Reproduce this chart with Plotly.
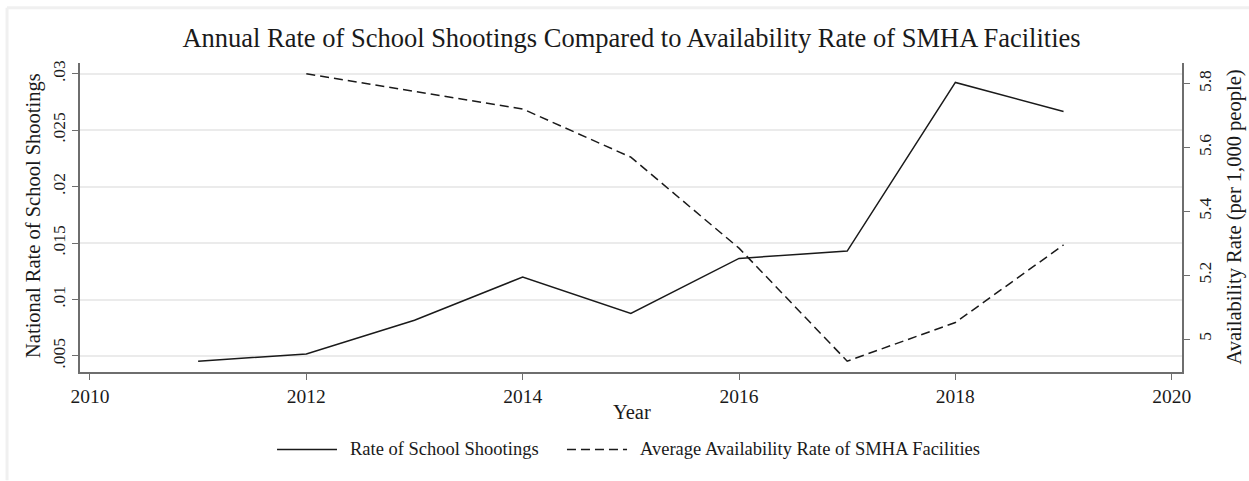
"""School shootings rate vs SMHA facility availability, dual axis line chart."""

import plotly.graph_objects as go

# ---------------------------------------------------------------------------
# Data
# ---------------------------------------------------------------------------
years_shootings = [2011, 2012, 2013, 2014, 2015, 2016, 2017, 2018, 2019]
shooting_rate = [0.00453, 0.00518, 0.00817, 0.01199, 0.00876, 0.01364, 0.01429, 0.02923, 0.02666]

years_smha = [2012, 2013, 2014, 2015, 2016, 2017, 2018, 2019]
smha_rate = [5.831, 5.776, 5.721, 5.570, 5.285, 4.931, 5.052, 5.295]

x_ticks = [2010, 2012, 2014, 2016, 2018, 2020]
left_ticks = [0.005, 0.01, 0.015, 0.02, 0.025, 0.03]
left_ticktext = [".005", ".01", ".015", ".02", ".025", ".03"]
right_ticks = [5.0, 5.2, 5.4, 5.6, 5.8]
right_ticktext = ["5", "5.2", "5.4", "5.6", "5.8"]

TITLE = "Annual Rate of School Shootings Compared to Availability Rate of SMHA Facilities"
FONT = "Liberation Serif, Times New Roman, serif"
INK = "#1a1a1a"
AXIS = "#6e6e6e"
GRID = "#ebebeb"
DASH = "9px,5px"

fig = go.Figure()
fig.add_trace(go.Scatter(
    x=years_shootings, y=shooting_rate,
    mode="lines", name="Rate of School Shootings",
    line=dict(color=INK, width=1.5),
    yaxis="y",
))
fig.add_trace(go.Scatter(
    x=years_smha, y=smha_rate,
    mode="lines", name="Average Availability Rate of SMHA Facilities",
    line=dict(color=INK, width=1.5, dash=DASH),
    yaxis="y2",
))

axis_common = dict(
    showline=True, linecolor=AXIS, linewidth=1.5,
    ticks="outside", ticklen=6, tickcolor=AXIS, tickwidth=1.2,
    zeroline=False, fixedrange=True,
)

fig.update_layout(
    width=1249, height=481,
    margin=dict(l=80, r=67, t=63, b=109),
    paper_bgcolor="white", plot_bgcolor="white",
    showlegend=False,
    font=dict(family=FONT, color=INK),
    title=dict(text=TITLE, x=0.5056, xanchor="center", y=1 - 38 / 481, yanchor="middle",
               font=dict(family=FONT, size=26.5, color=INK)),
    xaxis=dict(range=[2009.908, 2020.095], tickvals=x_ticks, showgrid=False,
               tickfont=dict(family=FONT, size=19.5, color=INK), **axis_common),
    yaxis=dict(range=[0.00358, 0.03095], tickvals=left_ticks, ticktext=left_ticktext,
               tickangle=-90, showgrid=True, gridcolor=GRID, gridwidth=1.5,
               tickfont=dict(family=FONT, size=17.5, color=INK), **axis_common),
    yaxis2=dict(range=[4.897, 5.865], tickvals=right_ticks, ticktext=right_ticktext,
                overlaying="y", side="right", tickangle=-90, showgrid=False,
                tickfont=dict(family=FONT, size=17.5, color=INK), **axis_common),
)

# axis titles as annotations so they land where the original puts them
title_font = dict(family=FONT, size=20.5, color=INK)
fig.add_annotation(text="National Rate of School Shootings", xref="paper", yref="paper",
                   x=-0.0427, y=0.508, textangle=-90, showarrow=False,
                   xanchor="center", yanchor="middle", font=title_font)
fig.add_annotation(text="Availability Rate (per 1,000 people)", xref="paper", yref="paper",
                   x=1.0472, y=0.50, textangle=-90, showarrow=False,
                   xanchor="center", yanchor="middle", font=title_font)
fig.add_annotation(text="Year", xref="paper", yref="paper",
                   x=0.501, y=-0.128, showarrow=False,
                   xanchor="center", yanchor="middle", font=title_font)

# legend drawn by hand: 60px line samples like the original
legend_y = -0.2506
legend_font = dict(family=FONT, size=18.5, color=INK)
fig.add_shape(type="line", xref="paper", yref="paper", x0=0.1788, x1=0.2332,
              y0=legend_y, y1=legend_y, line=dict(color=INK, width=1.5))
fig.add_annotation(text="Rate of School Shootings", xref="paper", yref="paper",
                   x=0.2432, y=legend_y, showarrow=False, xanchor="left",
                   yanchor="middle", font=legend_font)
fig.add_shape(type="line", xref="paper", yref="paper", x0=0.4419, x1=0.4964,
              y0=legend_y, y1=legend_y, line=dict(color=INK, width=1.5, dash=DASH))
fig.add_annotation(text="Average Availability Rate of SMHA Facilities", xref="paper",
                   yref="paper", x=0.5064, y=legend_y, showarrow=False, xanchor="left",
                   yanchor="middle", font=legend_font)

# faint outer frame on the left and top edges
fig.add_shape(type="line", xref="paper", yref="paper", x0=-0.0662, x1=-0.0662,
              y0=-0.35, y1=1.179, line=dict(color="#f0f0f0", width=3))
fig.add_shape(type="line", xref="paper", yref="paper", x0=-0.0662, x1=1.07,
              y0=1.179, y1=1.179, line=dict(color="#f0f0f0", width=3))

# default page margin would shift the figure by 8px; pin it to the corner
fig.write_html("out.html", config={"displayModeBar": False},
               post_script="document.body.style.margin='0';")
